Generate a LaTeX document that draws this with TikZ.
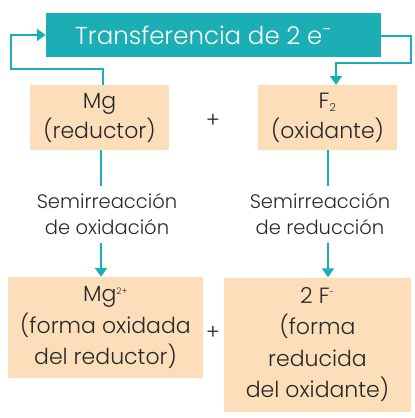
\documentclass[tikz,border=0pt]{standalone}
\usepackage{fontspec}
\IfFontExistsTF{Poppins Light}{\setmainfont{Poppins Light}}{\setmainfont{Poppins}}
\usetikzlibrary{arrows.meta}
\definecolor{teal1}{RGB}{27,174,180}
\definecolor{peach}{RGB}{252,222,186}
\definecolor{txt}{RGB}{40,40,40}
\tikzset{
  box/.style={fill=peach, inner sep=0pt, text=txt, align=center, font=\fontsize{22}{31.5}\selectfont},
  lbl/.style={text=txt, align=center, inner sep=0pt, font=\fontsize{19.5}{26.5}\selectfont},
  conn/.style={draw=teal1, line width=2pt},
  arr/.style={conn, -{Triangle[width=12pt,length=9pt]}},
}
\begin{document}
\begin{tikzpicture}[x=1pt,y=-1pt]
\useasboundingbox (0,0) rectangle (415,418);
\node[fill=teal1, text=white, minimum width=335pt, minimum height=44pt, inner sep=0pt, font=\fontsize{24.5}{30}\selectfont] (title) at (213.5,35) {Transferencia de 2 e\textsuperscript{−}\hspace*{20pt}};
\node[box, minimum width=139pt, minimum height=65pt, font=\fontsize{22}{30}\selectfont] (mg) at (99.5,117.5) {Mg\\(reductor)};
\node[box, minimum width=139pt, minimum height=65pt, font=\fontsize{22}{30}\selectfont] (f2) at (327.5,117.5) {F\textsubscript{\fontsize{11}{11}\selectfont 2}\\(oxidante)};
\node[text=txt, font=\fontsize{21}{22}\selectfont] (plus1) at (213,121) {+};
\node[lbl] (s1) at (107,214) {Semirreacción\\de oxidación};
\node[lbl] (s2) at (320,214) {Semirreacción\\de reducción};
\node[box, minimum width=195pt, minimum height=101pt] (mgi) at (105.5,327.5) {Mg\textsuperscript{\fontsize{9}{9}\selectfont 2+}\\(forma oxidada\\del reductor)};
\node[box, minimum width=187pt, minimum height=134pt] (fi) at (317.5,344.5) {2 F\textsuperscript{\fontsize{9}{9}\selectfont -}\\(forma\\reducida\\del oxidante)};
\node[text=txt, font=\fontsize{21}{22}\selectfont] (plus2) at (213,333) {+};
\coordinate (l1) at (103,69);
\coordinate (l2) at (11,69);
\coordinate (r1) at (411,36);
\coordinate (r2) at (411,63);
\coordinate (r3) at (336,63);
\draw[arr] (mg.north -| l1) -- (l1) -- (l2) |- (title.west);
\draw[arr] (title.east |- r1) -- (r1) -- (r2) -- (r3) -- (r3 |- f2.north);
\draw[conn] (101,150) -- (101,186);
\draw[conn] (328,150) -- (328,186);
\draw[arr] (101,243) -- (mgi.north -| 101,0);
\draw[arr] (328,243) -- (fi.north -| 328,0);
\end{tikzpicture}
\end{document}
